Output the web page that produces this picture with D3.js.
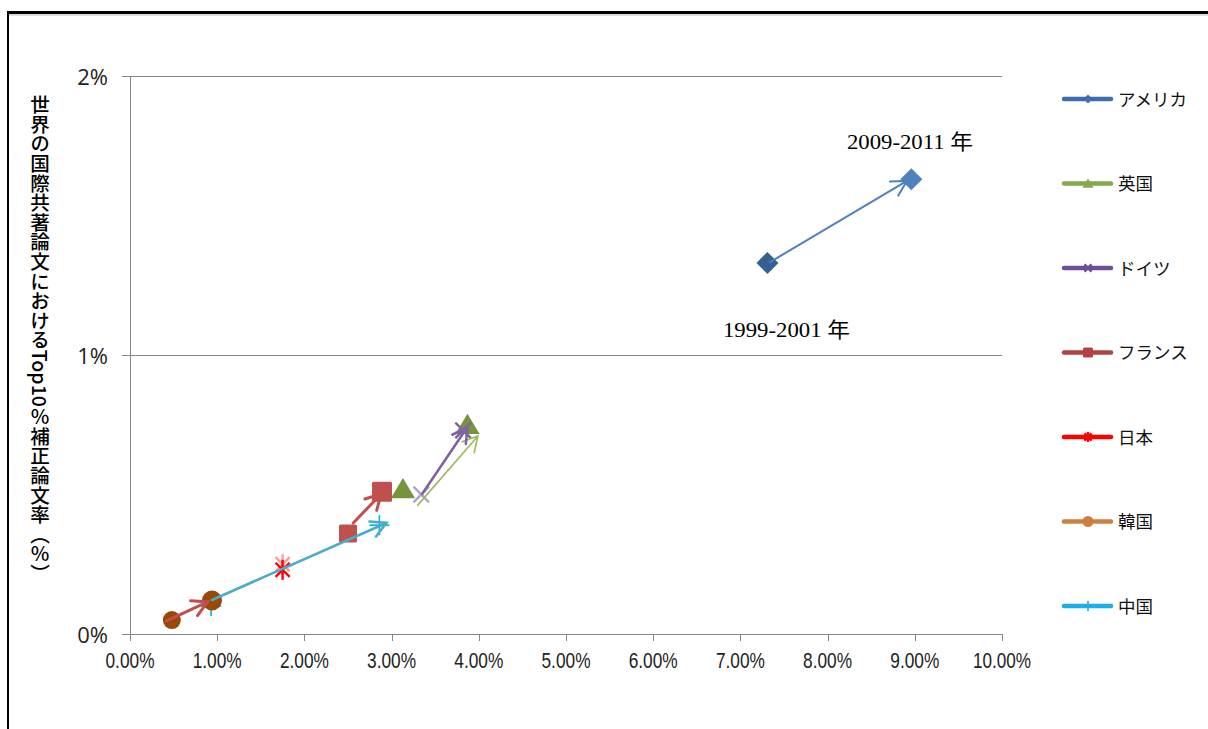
<!DOCTYPE html>
<html>
<head>
<meta charset="utf-8">
<script src="https://cdn.jsdelivr.net/npm/d3@7"></script>
<style>
  body { margin: 0; background: #fff; }
  svg { display: block; }
</style>
</head>
<body>
<svg id="chart" width="1208" height="729"></svg>
<script>
// 国別データ（値は%単位）
const countries = ["アメリカ", "英国", "ドイツ", "フランス", "日本", "韓国", "中国"];
// 1999-2001年
const x1999 = [7.31, 3.13, 3.34, 2.50, 1.75, 0.48, 0.93];
const y1999 = [1.33, 0.52, 0.50, 0.36, 0.25, 0.05, 0.10];
// 2009-2011年
const x2009 = [8.96, 3.87, 3.82, 2.89, 1.75, 0.94, 2.86];
const y2009 = [1.63, 0.75, 0.73, 0.51, 0.23, 0.12, 0.39];
// 矢印（別に描かれた図形）の始点・終点
const arrowX0 = [7.34, 3.30, 3.35, 2.56, null, 0.42, 0.94];
const arrowY0 = [1.333, 0.462, 0.502, 0.398, null, 0.047, 0.122];
const arrowX1 = [8.91, 3.99, 3.87, 2.88, null, 0.89, 2.94];
const arrowY1 = [1.624, 0.710, 0.742, 0.502, null, 0.115, 0.398];

const xTicks = [0, 1, 2, 3, 4, 5, 6, 7, 8, 9, 10];
const yTicks = [0, 1, 2];
const periodLabels = ["1999-2001 年", "2009-2011 年"];
const yTitle = "世界の国際共著論文におけるTop10％補正論文率（％）";

const shapes = ["diamond", "triangle", "x", "square", "asterisk", "circle", "plus"];
const startColor = ["#376092", "#77933c", "#b3a2c7", "#c0504d", "#ff9b9b", "#984807", "#00b0f0"];
const endColor = ["#4f81bd", "#77933c", "#7f63a1", "#c0504d", "#ff0000", "#984807", "#00b0f0"];
const arrowColor = ["#4f81bd", "#9bbb59", "#8064a2", "#c0504d", null, "#c0504d", "#4bacc6"];
const arrowWidth = [2, 1.6, 2.6, 3, 0, 3, 2.6];
const legendColor = ["#3d6eb0", "#86a84c", "#6d4f93", "#b3423f", "#ff0000", "#cc7f3f", "#1aaeea"];

const svg = d3.select("#chart");

// 外枠
svg.append("line").attr("x1", 7).attr("x2", 1208).attr("y1", 12.5).attr("y2", 12.5)
  .attr("stroke", "#000").attr("stroke-width", 3);
svg.append("line").attr("x1", 7).attr("x2", 1208).attr("y1", 15).attr("y2", 15)
  .attr("stroke", "#bbb").attr("stroke-width", 1);
svg.append("line").attr("x1", 8).attr("x2", 8).attr("y1", 11).attr("y2", 729)
  .attr("stroke", "#000").attr("stroke-width", 2);

const x = d3.scaleLinear().domain([0, 10]).range([130, 1002]);
const y = d3.scaleLinear().domain([0, 2]).range([634, 76]);

// グリッド線
svg.append("g")
  .selectAll("line")
  .data(yTicks)
  .enter()
  .append("line")
  .attr("x1", 122).attr("x2", 1002)
  .attr("y1", d => Math.round(y(d)) + 0.5).attr("y2", d => Math.round(y(d)) + 0.5)
  .attr("stroke", "#868686").attr("stroke-width", 1);

// Y軸
svg.append("line").attr("x1", 130.5).attr("x2", 130.5).attr("y1", y(2)).attr("y2", y(0))
  .attr("stroke", "#868686");
svg.append("g")
  .selectAll("text")
  .data(yTicks)
  .enter()
  .append("text")
  .attr("x", 108).attr("y", d => y(d) + 8.5)
  .attr("text-anchor", "end")
  .style("font-family", "'Open Sans', 'Liberation Sans', sans-serif")
  .style("font-size", "22px")
  .attr("fill", "#222")
  .text(d => d + "%");

// X軸の目盛
svg.append("g")
  .selectAll("line")
  .data(xTicks)
  .enter()
  .append("line")
  .attr("x1", d => Math.round(x(d)) + 0.5).attr("x2", d => Math.round(x(d)) + 0.5)
  .attr("y1", 634).attr("y2", 641)
  .attr("stroke", "#868686");
svg.append("g")
  .selectAll("text")
  .data(xTicks)
  .enter()
  .append("text")
  .attr("x", d => x(d)).attr("y", 668)
  .attr("text-anchor", "middle")
  .attr("textLength", d => d === 10 ? 58 : 49)
  .attr("lengthAdjust", "spacingAndGlyphs")
  .style("font-family", "'Liberation Sans', Arial, sans-serif")
  .style("font-size", "22px")
  .attr("fill", "#222")
  .text(d => d.toFixed(2) + "%");

// Y軸タイトル（縦書き）
svg.append("text")
  .attr("x", 40).attr("y", 95)
  .style("writing-mode", "vertical-rl")
  .style("font-family", "'Noto Sans CJK JP', sans-serif")
  .style("font-size", "19.6px")
  .style("font-weight", 500)
  .attr("fill", "#000")
  .text(yTitle);

// マーカー
function drawMarker(g, shape, cx, cy, color, s) {
  if (shape === "diamond") {
    g.append("path").attr("d", `M${cx},${cy - s}L${cx + s},${cy}L${cx},${cy + s}L${cx - s},${cy}Z`).attr("fill", color);
  } else if (shape === "triangle") {
    g.append("path").attr("d", `M${cx},${cy - s}L${cx + s * 1.1},${cy + s * 0.85}L${cx - s * 1.1},${cy + s * 0.85}Z`).attr("fill", color);
  } else if (shape === "square") {
    g.append("rect").attr("x", cx - s).attr("y", cy - s).attr("width", 2 * s).attr("height", 2 * s)
      .attr("rx", 1.5).attr("fill", color);
  } else if (shape === "circle") {
    g.append("circle").attr("cx", cx).attr("cy", cy).attr("r", s).attr("fill", color);
  } else {
    let angles = [];
    if (shape === "x") angles = [45, 135];
    if (shape === "plus") angles = [0, 90];
    if (shape === "asterisk") angles = [45, 135, 90];
    angles.forEach(a => {
      const r = a * Math.PI / 180;
      g.append("line")
        .attr("x1", cx - s * Math.cos(r)).attr("y1", cy - s * Math.sin(r))
        .attr("x2", cx + s * Math.cos(r)).attr("y2", cy + s * Math.sin(r))
        .attr("stroke", color).attr("stroke-width", shape === "plus" ? 1.6 : 2.4);
    });
  }
}

const markerSize = { diamond: 11, triangle: 11, square: 10, circle: 10, x: 11, asterisk: 10, plus: 10 };
const marks = svg.append("g");
countries.forEach((c, i) => {
  const s = markerSize[shapes[i]];
  drawMarker(marks, shapes[i], x(x1999[i]), y(y1999[i]), startColor[i], shapes[i] === "square" || shapes[i] === "circle" ? s * 0.9 : s);
});
countries.forEach((c, i) => {
  drawMarker(marks, shapes[i], x(x2009[i]), y(y2009[i]), endColor[i], markerSize[shapes[i]]);
});

// 矢印
const arrows = svg.append("g").attr("stroke-linecap", "round").attr("fill", "none");
countries.forEach((c, i) => {
  if (arrowX0[i] === null) return;
  const ax = x(arrowX0[i]), ay = y(arrowY0[i]);
  const bx = x(arrowX1[i]), by = y(arrowY1[i]);
  const ang = Math.atan2(by - ay, bx - ax);
  const L = 17, w = 0.5;
  const p1 = [bx - L * Math.cos(ang - w), by - L * Math.sin(ang - w)];
  const p2 = [bx - L * Math.cos(ang + w), by - L * Math.sin(ang + w)];
  arrows.append("path")
    .attr("d", `M${ax},${ay}L${bx},${by}M${p1[0]},${p1[1]}L${bx},${by}L${p2[0]},${p2[1]}`)
    .attr("stroke", arrowColor[i])
    .attr("stroke-width", arrowWidth[i]);
});

// 期間の注記
const noteFont = "'Liberation Serif', 'Noto Sans CJK JP', serif";
svg.append("text").attr("x", 723).attr("y", y(1.065))
  .attr("textLength", 127).attr("lengthAdjust", "spacingAndGlyphs")
  .style("font-family", noteFont).style("font-size", "21px").attr("fill", "#000")
  .text(periodLabels[0]);
svg.append("text").attr("x", 847).attr("y", y(1.74))
  .attr("textLength", 126).attr("lengthAdjust", "spacingAndGlyphs")
  .style("font-family", noteFont).style("font-size", "21px").attr("fill", "#000")
  .text(periodLabels[1]);

// 凡例
const legend = svg.append("g");
countries.forEach((c, i) => {
  const ly = 99 + i * 84.5;
  const row = legend.append("g");
  row.append("line").attr("x1", 1064).attr("x2", 1111).attr("y1", ly).attr("y2", ly)
    .attr("stroke", legendColor[i]).attr("stroke-width", 4.5).attr("stroke-linecap", "round");
  const ms = { diamond: 4.5, triangle: 5, square: 5, circle: 5.5, x: 5, asterisk: 5, plus: 5 }[shapes[i]];
  drawMarker(row, shapes[i], 1088, ly, legendColor[i], ms);
  row.append("text").attr("x", 1118).attr("y", ly + 6.5)
    .style("font-family", "'Noto Sans CJK JP', sans-serif")
    .style("font-size", "17.5px")
    .attr("fill", "#111")
    .text(c);
});
</script>
</body>
</html>
